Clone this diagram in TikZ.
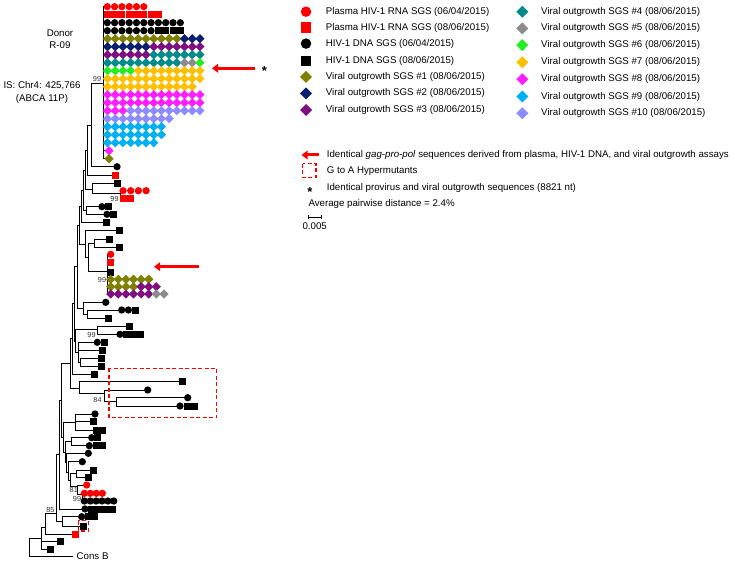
\documentclass[tikz,border=0pt]{standalone}
\usepackage{fontspec}
\setmainfont{Liberation Sans}
\usetikzlibrary{shapes.geometric,arrows.meta,backgrounds}
\definecolor{hred}{HTML}{FF0000}
\definecolor{vo1}{HTML}{808000}
\definecolor{vo2}{HTML}{0A1F6E}
\definecolor{vo3}{HTML}{7F0F7F}
\definecolor{vo4}{HTML}{008B8B}
\definecolor{vo5}{HTML}{8C8C8C}
\definecolor{vo6}{HTML}{22EE22}
\definecolor{vo7}{HTML}{FFC000}
\definecolor{vo8}{HTML}{FF1EFF}
\definecolor{vo9}{HTML}{00B0F0}
\definecolor{vo10}{HTML}{8C8CFF}
\tikzset{
  br/.style={line width=0.9pt},
  mk/.style={draw=none, inner sep=0pt, outer sep=0pt},
  rc/.style={mk, circle, fill=hred, minimum size=7.3pt},
  rs/.style={mk, rectangle, fill=hred, minimum size=7pt},
  bc/.style={mk, circle, fill=black, minimum size=7.3pt},
  bs/.style={mk, rectangle, fill=black, minimum size=7pt},
  dm/.style={mk, diamond, minimum size=9.2pt},
  d1/.style={dm, fill=vo1}, d2/.style={dm, fill=vo2}, d3/.style={dm, fill=vo3},
  d4/.style={dm, fill=vo4}, d5/.style={dm, fill=vo5}, d6/.style={dm, fill=vo6},
  d7/.style={dm, fill=vo7}, d8/.style={dm, fill=vo8}, d9/.style={dm, fill=vo9},
  d10/.style={dm, fill=vo10},
  big/.style={minimum size=10.5pt},
  bigd/.style={minimum size=12pt},
  lt/.style={anchor=west, inner sep=0pt, font=\fontsize{9.7}{11}\selectfont},
  tl/.style={inner sep=0pt, font=\fontsize{9.7}{11}\selectfont},
  boot/.style={inner sep=0pt, text=black!80, font=\fontsize{7.3}{8}\selectfont},
  hyper/.style={draw=hred, line width=1.3pt, dash pattern=on 4pt off 2.5pt},
  redarrow/.style={draw=hred, line width=3pt, -{Triangle[length=6pt,width=8.5pt]}},
  starnode/.style={inner sep=0pt, font=\fontsize{13}{13}\selectfont\bfseries}
}
\newcommand{\leaf}[5]{%
  \coordinate (#1) at (#2,#3);
  \gdef\rowpos{0}%
  \foreach \s/\cnt in {#5} {%
    \foreach \k in {1,...,\cnt} {%
      \node[\s] (#1-\s-\k) at ({#2+(\rowpos+\k-1)*#4},#3) {};
    }%
    \pgfmathtruncatemacro{\newpos}{\rowpos+\cnt}%
    \xdef\rowpos{\newpos}%
  }%
}
\begin{document}
\begin{tikzpicture}[x=1pt,y=-1pt]
\useasboundingbox (0,0) rectangle (735,564);

% ---------- leaves: big clade ----------
\leaf{r1}{107.3}{6.7}{7.3}{rc/6}
\leaf{r2}{107.3}{14.7}{7.3}{rs/8}
\leaf{r3}{107.3}{22.7}{7.3}{bc/11}
\leaf{r4}{107.3}{30.7}{7.3}{bc/7,bs/4}
\leaf{r5}{107.5}{38.7}{7.7}{d1/10,d2/3}
\leaf{r6}{107.5}{46.7}{7.7}{d2/6,d3/7}
\leaf{r7}{107.5}{54.7}{7.7}{d3/6,d4/7}
\leaf{r8}{107.5}{62.7}{7.7}{d4/10,d5/2,d6/1}
\leaf{r9}{107.5}{70.7}{7.7}{d6/4,d7/9}
\leaf{r10}{107.5}{78.7}{7.7}{d7/13}
\leaf{r11}{107.5}{86.7}{7.7}{d7/12}
\leaf{r12}{107.5}{94.7}{7.7}{d8/13}
\leaf{r13}{107.5}{102.7}{7.7}{d8/13}
\leaf{r14}{107.5}{110.7}{7.7}{d8/3,d10/10}
\leaf{r15}{107.5}{118.7}{7.7}{d10/9}
\leaf{r16}{107.5}{126.7}{7.7}{d9/8}
\leaf{r17}{107.5}{134.7}{7.7}{d9/8}
\leaf{r18}{107.5}{142.7}{7.7}{d9/7}
\leaf{r19}{109}{150.7}{7.7}{d8/1}
\leaf{r20}{109}{158.7}{7.7}{d1/1}

% ---------- other leaves ----------
\leaf{a1}{117}{166.7}{7}{bc/1}
\leaf{a2}{115.7}{175.3}{7}{rs/1}
\leaf{a3}{117}{183.3}{7}{bs/1}
\leaf{a4}{123}{190.7}{7.7}{rc/4}
\leaf{a5}{123}{198.3}{7.7}{rs/2}
\leaf{a6}{102}{206.7}{6.3}{bc/1,bs/1}
\leaf{a7}{107}{214.3}{6.5}{bc/1,bs/1}
\leaf{a8}{106}{222.7}{7}{bs/1}
\leaf{a9}{119}{230.7}{7}{bs/1}
\leaf{a10}{109}{239}{7}{bs/1}
\leaf{a11}{119}{247.3}{7}{bs/1}
\leaf{a12}{110.7}{254.3}{7}{rc/1}
\leaf{a13}{110.7}{262.7}{7}{rs/1}
\leaf{a14}{110.7}{272.3}{7}{bs/1}
\leaf{a15}{110.7}{279.3}{7.6}{d1/6}
\leaf{a16}{110.7}{286.7}{7.6}{d1/4,d3/3}
\leaf{a17}{110.7}{294}{7.6}{d3/6,d5/2}
\leaf{a18}{105.7}{302.3}{7}{bc/1}
\leaf{a19}{121.7}{310}{6.7}{bc/2,bs/1}
\leaf{a20}{108.3}{318.3}{7}{bs/1}
\leaf{a21}{129.3}{326.7}{7}{bs/1}
\leaf{a22}{120}{334.3}{6.7}{bc/1,bs/3}
\leaf{a23}{97.3}{342.3}{6.7}{bc/1,bs/1}
\leaf{a24}{102}{350.7}{7}{bs/1}
\leaf{a25}{101}{358.3}{7}{bs/1}
\leaf{a26}{101}{366}{7}{bs/1}
\leaf{a27}{94.3}{374}{7}{bs/1}
\leaf{a28}{182.7}{381.7}{7}{bs/1}
\leaf{a29}{147.7}{390}{7}{bc/1}
\leaf{a30}{187.7}{397.7}{7}{bc/1}
\leaf{a31}{180}{406}{7.3}{bc/1,bs/2}
\leaf{a32}{95}{414}{7}{bc/1}
\leaf{a33}{93.3}{421.7}{7}{bs/1}
\leaf{a34}{96}{430}{6.7}{bs/2}
\leaf{a35}{91.7}{437.7}{6}{bc/1,bs/1}
\leaf{a36}{89.3}{445.7}{6.7}{bc/1,bs/2}
\leaf{a37}{88.3}{453.3}{7}{bc/1}
\leaf{a38}{82.3}{461.7}{7}{bc/1}
\leaf{a39}{93.3}{470}{7}{bs/1}
\leaf{a40}{88.3}{477.3}{7}{bs/1}
\leaf{a41}{86.7}{485}{7}{rc/1}
\leaf{a42}{84.3}{493.3}{6}{rc/4}
\leaf{a43}{84.3}{501}{5.9}{bc/6}
\leaf{a44}{85}{509}{6.9}{bc/1,bs/4}
\leaf{a45}{81.7}{516.7}{6.3}{bc/1,bs/2}
\leaf{a46}{83.3}{526}{7}{bs/1}
\leaf{a47}{75}{534.3}{7}{rs/1}
\leaf{a48}{60}{541.7}{7}{bs/1}
\leaf{a49}{50.7}{549.3}{7}{bs/1}
\coordinate (cons) at (73.3,556);

% ---------- internal nodes ----------
\coordinate (C0) at (103,83);
\coordinate (P1) at (91,125);
\coordinate (P2) at (87,150);
\coordinate (R99) at (120,193.5);
\coordinate (P4) at (92,189);
\coordinate (P3) at (85,170);
\coordinate (Q1) at (86,210.5);
\coordinate (P5) at (83.5,190);
\coordinate (P6) at (81,206);
\coordinate (Q3) at (94,243.2);
\coordinate (D99) at (107,271.7);
\coordinate (Q2) at (88,257);
\coordinate (Q4) at (85,244);
\coordinate (P7) at (79,225);
\coordinate (Q5) at (87.3,314);
\coordinate (Q6) at (83,308);
\coordinate (P8) at (77,266);
\coordinate (Q7) at (97.5,329);
\coordinate (Q9) at (80,362);
\coordinate (Q8) at (78,352);
\coordinate (Q10) at (75,341);
\coordinate (P9) at (74,303);
\coordinate (P10) at (72.7,338);
\coordinate (H3) at (116.7,401.8);
\coordinate (H2) at (104,393);
\coordinate (H1) at (79,388);
\coordinate (P11) at (70,363);
\coordinate (G1) at (75,422);
\coordinate (G2) at (71.7,441.7);
\coordinate (K99) at (82,494);
\coordinate (K81) at (77.5,486);
\coordinate (G3a) at (76.7,473.7);
\coordinate (G4) at (70.5,480);
\coordinate (G5) at (68.5,472);
\coordinate (G6) at (66.5,462.7);
\coordinate (G7) at (65,452);
\coordinate (G8) at (63,437);
\coordinate (P12) at (61.5,400);
\coordinate (P13) at (59.5,454.5);
\coordinate (N5) at (62,521.4);
\coordinate (N85) at (56,513);
\coordinate (N2) at (45,527);
\coordinate (N1) at (41.7,538);
\coordinate (Root) at (29.3,538);

% ---------- branches (behind markers) ----------
\begin{pgfonlayer}{background}
\fill[white] (0,0) rectangle (735,564);
\foreach \i in {1,...,20} \draw[br] (C0) |- (r\i);
\foreach \pa/\ch in {P1/C0,P1/a1,P2/P1,P2/a2,P4/a3,P4/R99,R99/a4,R99/a5,P3/P2,P3/P4,
  Q1/a6,Q1/a7,P5/P3,P5/Q1,P6/P5,P6/a8,Q3/a10,Q3/a11,D99/a12,D99/a13,D99/a14,D99/a15,
  D99/a16,D99/a17,Q2/Q3,Q2/D99,Q4/a9,Q4/Q2,P7/P6,P7/Q4,Q5/a19,Q5/a20,Q6/a18,Q6/Q5,
  P8/P7,P8/Q6,Q7/a21,Q7/a22,Q9/a25,Q9/a26,Q8/a23,Q8/a24,Q8/Q9,Q10/Q7,Q10/Q8,P9/P8,
  P9/Q10,P10/P9,P10/a27,H3/a30,H3/a31,H2/a29,H2/H3,H1/a28,H1/H2,P11/P10,P11/H1,
  G1/a32,G1/a33,G1/a34,G2/a35,G2/a36,K99/a42,K99/a43,K81/a41,K81/K99,G3a/a39,G3a/a40,
  G4/G3a,G4/K81,G5/a38,G5/G4,G6/a37,G6/G5,G7/G2,G7/G6,G8/G1,G8/G7,P12/P11,P12/G8,
  P13/P12,P13/a44,N5/a45,N5/a46,N85/P13,N85/N5,N2/N85,N2/a47,N1/N2,N1/a48,N1/a49,
  Root/N1,Root/cons}
  \draw[br] (\pa) |- (\ch);
\end{pgfonlayer}

% ---------- bootstrap values ----------
\node[boot] (b1) at (97,78.5) {99};
\node[boot] (b2) at (114.5,198.5) {99};
\node[boot] (b3) at (102,279.5) {99};
\node[boot] (b4) at (91.5,334.5) {99};
\node[boot] (b5) at (97.5,399.5) {84};
\node[boot] (b6) at (73.8,490) {81};
\node[boot] (b7) at (77,498.5) {99};
\node[boot] (b8) at (50.5,509.5) {85};

% ---------- tree labels ----------
\node[tl] (donor) at (60,33.3) {Donor};
\node[tl] (rid) at (60,45) {R-09};
\node[tl] (is1) at (42,85.7) {IS: Chr4: 425,766};
\node[tl] (is2) at (42,99) {(ABCA 11P)};
\node[lt] (consb) at (76.5,556) {Cons B};

% ---------- hypermutant boxes ----------
\draw[hyper] (109,368.3) rectangle (216.7,417.7);
\draw[hyper] (78.3,520.7) rectangle (88.3,531);

% ---------- arrows in tree ----------
\coordinate (ar1s) at (255,68.3);
\coordinate (ar1e) at (212,68.3);
\draw[redarrow] (ar1s) -- (ar1e);
\node[starnode] (star1) at (264.5,71.2) {*};
\coordinate (ar2s) at (198.5,266.7);
\coordinate (ar2e) at (154,266.7);
\draw[redarrow] (ar2s) -- (ar2e);

% ---------- legend ----------
\node[rc,big] (m1) at (306,11.7) {};
\node[rs,big] (m2) at (306,27.7) {};
\node[bc,big] (m3) at (306,43.6) {};
\node[bs,big] (m4) at (306,61) {};
\node[d1,bigd] (m5) at (306,76.9) {};
\node[d2,bigd] (m6) at (306,93.3) {};
\node[d3,bigd] (m7) at (306,110) {};
\node[lt] (t1) at (325.7,11.7) {Plasma HIV-1 RNA SGS (06/04/2015)};
\node[lt] (t2) at (325.7,27.7) {Plasma HIV-1 RNA SGS (08/06/2015)};
\node[lt] (t3) at (325.7,43.6) {HIV-1 DNA SGS (06/04/2015)};
\node[lt] (t4) at (325.7,61) {HIV-1 DNA SGS (08/06/2015)};
\node[lt] (t5) at (325.7,76.9) {Viral outgrowth SGS \#1 (08/06/2015)};
\node[lt] (t6) at (325.7,93.3) {Viral outgrowth SGS \#2 (08/06/2015)};
\node[lt] (t7) at (325.7,110) {Viral outgrowth SGS \#3 (08/06/2015)};

\node[d4,bigd] (m8) at (522.3,11.7) {};
\node[d5,bigd] (m9) at (522.3,28.4) {};
\node[d6,bigd] (m10) at (522.3,45.1) {};
\node[d7,bigd] (m11) at (522.3,62.3) {};
\node[d8,bigd] (m12) at (522.3,79.3) {};
\node[d9,bigd] (m13) at (522.3,96.5) {};
\node[d10,bigd] (m14) at (522.3,113.3) {};
\node[lt] (t8) at (541,11.7) {Viral outgrowth SGS \#4 (08/06/2015)};
\node[lt] (t9) at (541,28.4) {Viral outgrowth SGS \#5 (08/06/2015)};
\node[lt] (t10) at (541,45.1) {Viral outgrowth SGS \#6 (08/06/2015)};
\node[lt] (t11) at (541,62.3) {Viral outgrowth SGS \#7 (08/06/2015)};
\node[lt] (t12) at (541,79.3) {Viral outgrowth SGS \#8 (08/06/2015)};
\node[lt] (t13) at (541,96.5) {Viral outgrowth SGS \#9 (08/06/2015)};
\node[lt] (t14) at (541,113.3) {Viral outgrowth SGS \#10 (08/06/2015)};

\coordinate (la1) at (318.5,155);
\coordinate (la2) at (301.5,155);
\draw[redarrow] (la1) -- (la2);
\node[lt] (t15) at (326.7,155) {Identical \textit{gag-pro-pol} sequences derived from plasma, HIV-1 DNA, and viral outgrowth assays};
\draw[hyper] (302.5,163.5) rectangle (316,177.3);
\node[lt] (t16) at (326.7,171.5) {G to A Hypermutants};
\node[starnode] (star2) at (310,191.8) {*};
\node[lt] (t17) at (326.7,188.3) {Identical provirus and viral outgrowth sequences (8821 nt)};
\node[lt] (t18) at (308.3,204) {Average pairwise distance = 2.4\%};
\coordinate (sb1) at (307.7,217.3);
\coordinate (sb2) at (321.7,217.3);
\draw[line width=0.9pt, {Bar[width=4pt]}-{Bar[width=4pt]}] (sb1) -- (sb2);
\node[tl] (t19) at (314.7,226.3) {0.005};
\end{tikzpicture}
\end{document}
